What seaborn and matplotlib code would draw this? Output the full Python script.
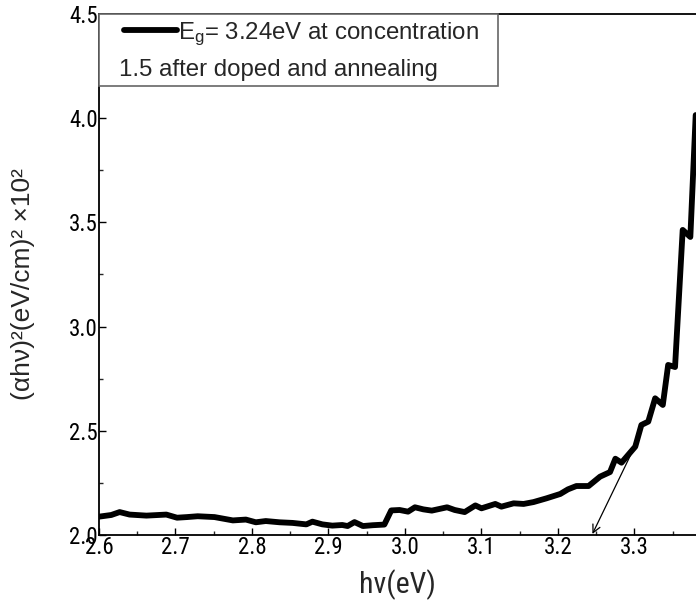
import matplotlib
matplotlib.use("Agg")
import matplotlib.pyplot as plt
from matplotlib.patches import Rectangle
from matplotlib.ticker import MultipleLocator
from matplotlib import font_manager
import seaborn as sns
import pandas as pd

# ---- data ----
photon_energy = [2.600, 2.608, 2.616, 2.627, 2.640, 2.662, 2.688, 2.702, 2.715, 2.729,
                 2.751, 2.775, 2.792, 2.805, 2.818, 2.836, 2.853, 2.871, 2.879, 2.892,
                 2.905, 2.918, 2.925, 2.934, 2.945, 2.958, 2.973, 2.982, 2.993, 3.004,
                 3.013, 3.024, 3.035, 3.055, 3.065, 3.078, 3.092, 3.100, 3.118, 3.126,
                 3.142, 3.155, 3.168, 3.185, 3.203, 3.213, 3.224, 3.240, 3.255, 3.268,
                 3.275, 3.283, 3.301, 3.309, 3.318, 3.327, 3.337, 3.344, 3.353, 3.363,
                 3.373, 3.380]
alpha_hv_sq = [2.088, 2.092, 2.096, 2.110, 2.098, 2.093, 2.098, 2.083, 2.086, 2.090,
               2.086, 2.070, 2.074, 2.061, 2.067, 2.061, 2.058, 2.051, 2.064, 2.051,
               2.045, 2.048, 2.043, 2.062, 2.043, 2.047, 2.050, 2.118, 2.120, 2.112,
               2.133, 2.123, 2.117, 2.133, 2.120, 2.110, 2.142, 2.128, 2.149, 2.136,
               2.152, 2.149, 2.158, 2.176, 2.197, 2.219, 2.235, 2.235, 2.280, 2.302,
               2.366, 2.347, 2.424, 2.528, 2.544, 2.656, 2.624, 2.816, 2.806, 3.464,
               3.430, 4.015]
x_ticks = [2.6, 2.7, 2.8, 2.9, 3.0, 3.1, 3.2, 3.3]
y_ticks = [2.0, 2.5, 3.0, 3.5, 4.0, 4.5]
legend_line1 = r"E$_\mathrm{g}$= 3.24eV at concentration"
legend_line2 = "1.5 after doped and annealing"
x_label = "hν(eV)"
y_label = "(αhν)²(eV/cm)² ×10²"
arrow_from = (3.301, 2.43)
arrow_to = (3.245, 2.005)

df = pd.DataFrame({"hv": photon_energy, "ahv2": alpha_hv_sq})

sns.set_style("ticks")
plt.rcParams["font.family"] = ["Liberation Sans", "DejaVu Sans"]
plt.rcParams["mathtext.fontset"] = "custom"
plt.rcParams["mathtext.rm"] = "Liberation Sans"
plt.rcParams["mathtext.it"] = "Liberation Sans"

available = {f.name for f in font_manager.fontManager.ttflist}
narrow = None
for cand in ["Liberation Sans Narrow", "Arial Narrow", "Roboto Condensed",
             "PT Sans Narrow", "Archivo Narrow"]:
    if cand in available:
        narrow = cand
        break
if narrow:
    narrow_family = [narrow, "Liberation Sans", "DejaVu Sans"]
    tick_size, label_size = 16.5, 21.5
else:
    narrow_family = ["Liberation Sans", "DejaVu Sans"]
    tick_size, label_size = 14.5, 18

fig = plt.figure(figsize=(6.96, 6.05), dpi=100)
ax = fig.add_axes([99 / 696, 70 / 605, 597 / 696, 521 / 605])

sns.lineplot(data=df, x="hv", y="ahv2", sort=False, color="black", lw=4.2,
             ax=ax, label=legend_line1, legend=False)

ax.set_xlim(2.6, 3.3804)
ax.set_ylim(2.0, 4.5)
ax.set_xticks(x_ticks)
ax.set_yticks(y_ticks)
ax.xaxis.set_minor_locator(MultipleLocator(0.05))
ax.yaxis.set_minor_locator(MultipleLocator(0.25))
ax.set_xticklabels([f"{v:.1f}" for v in x_ticks], family=narrow_family, fontsize=tick_size)
ax.set_yticklabels([f"{v:.1f}" for v in y_ticks], family=narrow_family, fontsize=tick_size)
ax.tick_params(which="major", direction="in", length=5, width=1, pad=1.0, colors="black")
ax.tick_params(which="minor", direction="in", length=3, width=1)
for s in ["left", "bottom", "top"]:
    ax.spines[s].set_linewidth(1.3)
    ax.spines[s].set_color("black")
ax.spines["right"].set_visible(False)

ax.set_xlabel(x_label, fontsize=label_size, family=narrow_family)
ax.set_ylabel(y_label, fontsize=19, family=["Liberation Sans", "DejaVu Sans"])
ax.xaxis.set_label_coords(0.5, -0.066)
ax.yaxis.set_label_coords(-0.107, 0.482)

# arrow pointing at the band-gap intercept
ax.annotate("", xy=arrow_to, xytext=arrow_from,
            arrowprops=dict(arrowstyle="->", color="black", lw=0.9,
                            mutation_scale=14, shrinkA=0, shrinkB=0))

# legend box
ax.add_patch(Rectangle((0, 0.862), 0.668, 0.138, transform=ax.transAxes,
                       facecolor="white", edgecolor="#666666", lw=1.2,
                       zorder=5, clip_on=False))
handle = ax.get_lines()[0]
leg = ax.legend(handles=[handle], labels=[legend_line1], loc="upper left",
                bbox_to_anchor=(0.0335, 0.997), frameon=False,
                handlelength=2.2, handletextpad=0.05, borderaxespad=0,
                borderpad=0.2, fontsize=17.3)
leg.set_zorder(6)
ax.text(0.0335, 0.8925, legend_line2, transform=ax.transAxes, fontsize=17.3,
        va="center", ha="left", zorder=7)

fig.savefig("out.png", dpi=100)
